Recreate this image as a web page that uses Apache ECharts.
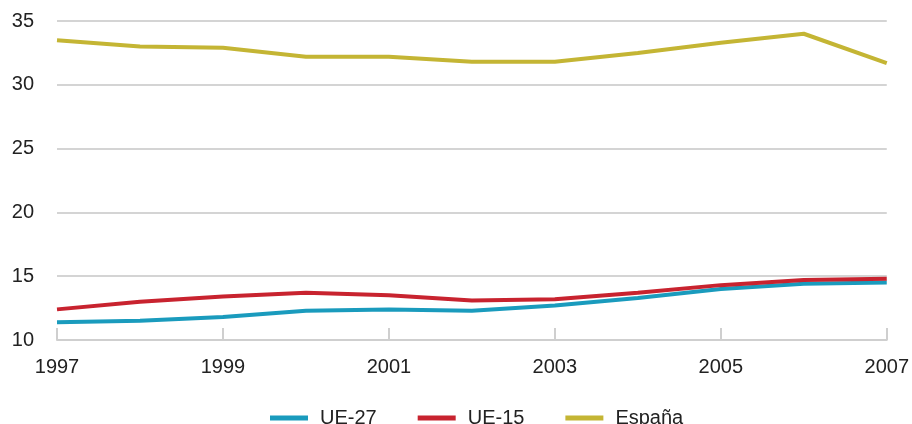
<!DOCTYPE html>
<html><head><meta charset="utf-8">
<script src="https://cdn.jsdelivr.net/npm/echarts@6/dist/echarts.min.js"></script>
<style>html,body{margin:0;padding:0;background:#fff}#c{width:912px;height:424px}</style>
</head><body><div id="c"></div>
<script>
const years = ['1997','1998','1999','2000','2001','2002','2003','2004','2005','2006','2007'];
const ue27 = [11.4,11.5,11.8,12.3,12.4,12.3,12.7,13.3,14.0,14.4,14.5];
const ue15 = [12.4,13.0,13.4,13.7,13.5,13.1,13.2,13.7,14.3,14.7,14.8];
const espana = [33.5,33.0,32.9,32.2,32.2,31.8,31.8,32.5,33.3,34.0,31.7];
const names = ['UE-27','UE-15','España'];
const colors = ['#1a9bbd','#c8232f','#c4b534'];
const font = 'Liberation Sans, Arial, sans-serif';
const chart = echarts.init(document.getElementById('c'));
const mk = (n,d,c)=>({name:n,type:'line',data:d,symbol:'none',smooth:false,
  lineStyle:{width:4,color:c},itemStyle:{color:c},z:3});
chart.setOption({
  animation:false,
  grid:{left:57,right:24,top:21,bottom:84,containLabel:false},
  legend:{bottom:-9,left:265,icon:'rect',itemWidth:38,itemHeight:5,itemGap:41,
    textStyle:{fontFamily:font,fontSize:20,color:'#222',padding:[0,0,0,7]},data:names},
  xAxis:{type:'category',data:years,boundaryGap:false,
    axisLine:{lineStyle:{color:'#cfcfcf',width:2}},
    axisTick:{inside:true,length:12,interval:1,lineStyle:{color:'#cfcfcf',width:2}},
    axisLabel:{interval:1,fontFamily:font,fontSize:20,color:'#222',margin:17},
    splitLine:{show:false}},
  yAxis:{type:'value',min:10,max:35,interval:5,
    axisLine:{show:false},axisTick:{show:false},
    axisLabel:{fontFamily:font,fontSize:20,color:'#222',margin:23},
    splitLine:{lineStyle:{color:'#d4d4d4',width:2}}},
  series:[mk(names[0],ue27,colors[0]),mk(names[1],ue15,colors[1]),mk(names[2],espana,colors[2])]
});
</script></body></html>
